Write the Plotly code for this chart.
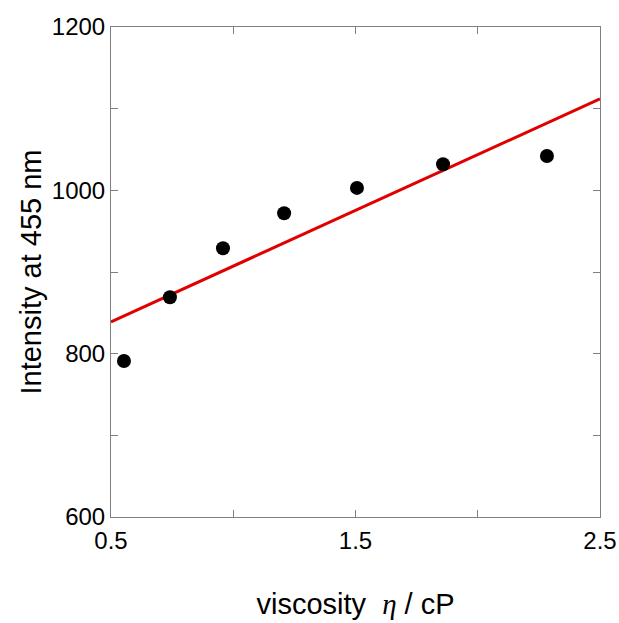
import numpy as np
import plotly.graph_objects as go

viscosity = [0.553, 0.741, 0.958, 1.208, 1.506, 1.858, 2.283]
intensity = [791, 869, 929, 972, 1003, 1032, 1042]

x_tickvals = [0.5, 1.5, 2.5]
y_tickvals = [600, 800, 1000, 1200]

slope, intercept = np.polyfit(viscosity, intensity, 1)
fit_x = [0.5, 2.5]
fit_y = [intercept + slope * v for v in fit_x]

fig = go.Figure()
fig.add_trace(go.Scatter(x=fit_x, y=fit_y, mode="lines",
                         line=dict(color="#e00000", width=3), showlegend=False))
fig.add_trace(go.Scatter(x=viscosity, y=intensity, mode="markers",
                         marker=dict(color="black", size=14), showlegend=False))

axis_common = dict(
    showline=True, linecolor="#808080", linewidth=1, mirror="ticks",
    ticks="inside", ticklen=7, tickcolor="#808080", tickwidth=1,
    showgrid=False, zeroline=False, automargin=False,
    tickfont=dict(family="Liberation Sans, Arial", size=24, color="black"),
)

fig.update_xaxes(
    range=[0.5, 2.5], tickvals=x_tickvals, ticktext=[str(v) for v in x_tickvals],
    minor=dict(ticks="inside", ticklen=7, tickcolor="#808080", dtick=0.5, tick0=0.5),
    title=dict(text="viscosity  <span style=\"font-family:'Liberation Serif';font-style:italic\">η</span> / cP",
               font=dict(family="Liberation Sans, Arial", size=29, color="black"), standoff=40),
    ticklabelstandoff=2,
    **axis_common,
)
fig.update_yaxes(
    range=[600, 1200], tickvals=y_tickvals, ticktext=[str(v) for v in y_tickvals],
    minor=dict(ticks="inside", ticklen=7, tickcolor="#808080", dtick=100, tick0=600),
    title=dict(text="Intensity at 455 nm",
               font=dict(family="Liberation Sans, Arial", size=29, color="black"), standoff=1),
    **axis_common,
)

fig.update_layout(
    width=619, height=623,
    margin=dict(l=111, r=19, t=27, b=106),
    plot_bgcolor="white", paper_bgcolor="white",
)

fig.write_html("out.html")
